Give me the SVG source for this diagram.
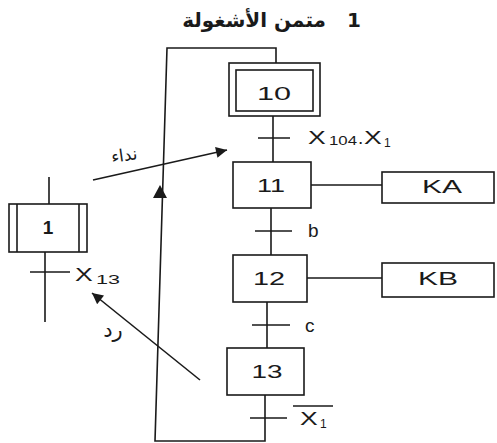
<svg xmlns="http://www.w3.org/2000/svg" width="497" height="443" viewBox="0 0 497 443">
<defs>
<style>
.ln{stroke:#1a1a1a;stroke-width:1.6;fill:none}
.bx{stroke:#1a1a1a;stroke-width:1.6;fill:#fff}
.num{font-family:"Liberation Sans",Arial,sans-serif;font-size:19px;fill:#1a1a1a;text-anchor:middle}
.lbl{font-family:"Liberation Sans",Arial,sans-serif;font-size:19px;fill:#1a1a1a}
.sub{font-family:"Liberation Sans",Arial,sans-serif;font-size:12px;fill:#1a1a1a}
.ar{font-family:"DejaVu Sans",sans-serif;fill:#1a1a1a;text-anchor:middle}
</style>
<marker id="ah" viewBox="0 0 10 10" refX="10" refY="5" markerWidth="15" markerHeight="11" markerUnits="userSpaceOnUse" orient="auto">
<path d="M0,0 L10,5 L0,10 Z" fill="#1a1a1a"/>
</marker>
</defs>
<rect width="497" height="443" fill="#fff"/>
<text x="326" y="27" font-family="DejaVu Sans,sans-serif" font-size="20" font-weight="bold" fill="#1a1a1a" text-anchor="end">متمن الأشغولة</text>
<text x="354" y="27" font-family="DejaVu Sans,sans-serif" font-size="20" font-weight="bold" fill="#1a1a1a" text-anchor="middle">1</text>
<g id="connectors">
<path class="ln" d="M273,116 V162 M271,208 V255 M267,302 V348"/>
<path class="ln" d="M265,395 V441 H155 L167,48 H276 V63"/>
<path class="ln" d="M258,138 H290 M255,231 H292 M252,325 H290 M250,418 H287"/>
<path class="ln" d="M311,185 H383 M307,278 H382"/>
<path class="ln" d="M49,177 V204 M45,252 V322 M30,272 H70"/>
<path d="M153,198 L160,185 L167,198 Z" fill="#1a1a1a"/>
<line class="ln" x1="93" y1="180" x2="227" y2="150" marker-end="url(#ah)"/>
<line class="ln" x1="200" y1="380" x2="92" y2="293" marker-end="url(#ah)"/>
<line class="ln" x1="293" y1="406" x2="333" y2="406"/>
</g>
<g id="step10">
<rect class="bx" x="229" y="63" width="91" height="53"/>
<rect class="bx" x="236" y="70" width="77" height="41"/>
<text class="num" x="274" y="100" font-size="24" textLength="34" lengthAdjust="spacingAndGlyphs">10</text>
</g>
<g id="step11">
<rect class="bx" x="233" y="162" width="78" height="46"/>
<text class="num" x="271" y="192" textLength="28" lengthAdjust="spacingAndGlyphs">11</text>
</g>
<g id="step12">
<rect class="bx" x="233" y="255" width="74" height="47"/>
<text class="num" x="269" y="285" textLength="32" lengthAdjust="spacingAndGlyphs">12</text>
</g>
<g id="step13">
<rect class="bx" x="227" y="348" width="77" height="47"/>
<text class="num" x="267" y="378" font-size="20" textLength="31" lengthAdjust="spacingAndGlyphs">13</text>
</g>
<g id="actionKA">
<rect class="bx" x="382" y="172" width="112" height="31"/>
<text class="num" x="442" y="193" font-size="18" textLength="40" lengthAdjust="spacingAndGlyphs">KA</text>
</g>
<g id="actionKB">
<rect class="bx" x="382" y="263" width="112" height="34"/>
<text class="num" x="438" y="285" font-size="18" textLength="40" lengthAdjust="spacingAndGlyphs">KB</text>
</g>
<g id="step1">
<rect class="bx" x="9" y="204" width="78" height="48"/>
<path class="ln" d="M17,204 V252 M79,204 V252"/>
<text class="num" x="48" y="234" font-size="18" font-weight="bold">1</text>
</g>
<g id="labels">
<text class="lbl" transform="translate(308,144) scale(1.4,1)">X</text>
<text class="sub" x="329" y="145" textLength="28" lengthAdjust="spacingAndGlyphs">104</text>
<text class="lbl" x="358" y="144">.</text>
<text class="lbl" transform="translate(364,144) scale(1.4,1)">X</text>
<text class="sub" x="384" y="147">1</text>
<text class="lbl" x="308" y="237">b</text>
<text class="lbl" x="305" y="332">c</text>
<text class="lbl" transform="translate(300,425) scale(1.4,1)">X</text>
<text class="sub" x="320" y="428">1</text>
<text class="lbl" transform="translate(75,281) scale(1.4,1)">X</text>
<text class="sub" x="96" y="284" textLength="24" lengthAdjust="spacingAndGlyphs">13</text>
<text class="ar" x="125" y="161" font-size="17" transform="rotate(-8 125 161)">نداء</text>
<text class="ar" x="113" y="337" font-size="21">رد</text>
</g>
</svg>
